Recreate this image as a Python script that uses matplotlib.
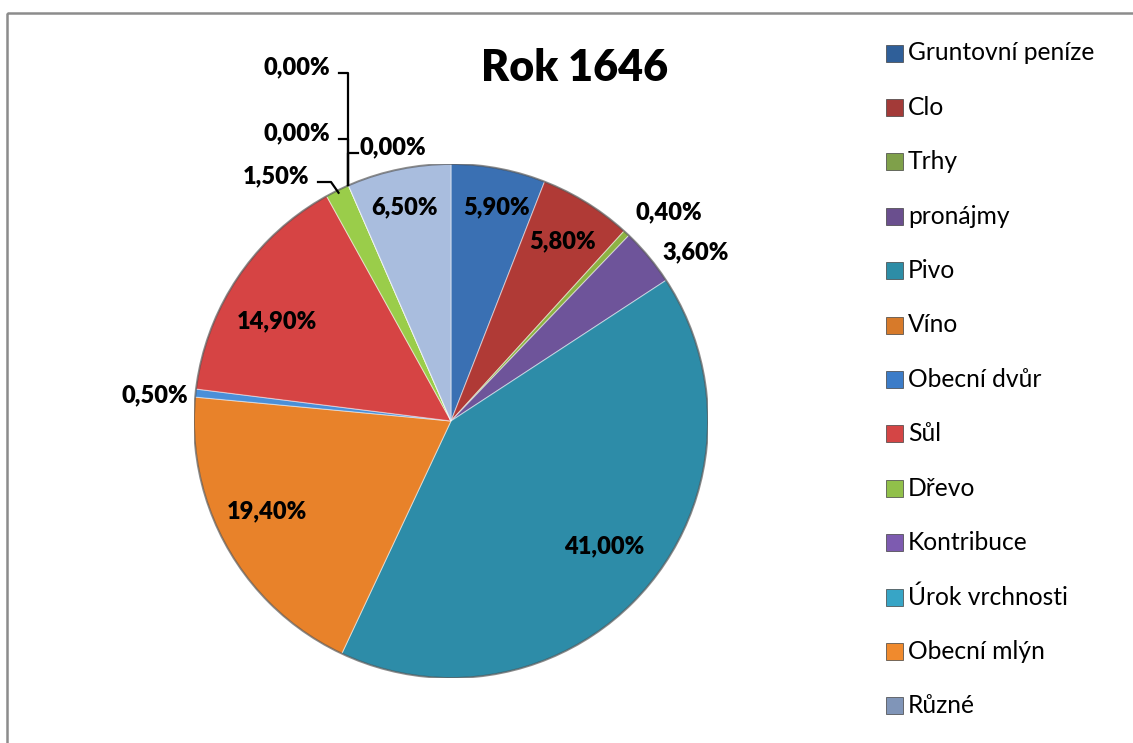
import matplotlib.pyplot as plt
from matplotlib.patches import Rectangle, Circle
import numpy as np

categories = ["Gruntovní peníze", "Clo", "Trhy", "pronájmy", "Pivo", "Víno",
              "Obecní dvůr", "Sůl", "Dřevo", "Kontribuce", "Úrok vrchnosti",
              "Obecní mlýn", "Různé"]
values = [5.9, 5.8, 0.4, 3.6, 41.0, 19.4, 0.5, 14.9, 1.5, 0.0, 0.0, 0.0, 6.5]
title = "Rok 1646"

colors = ["#3A70B3", "#B03A36", "#8DB243", "#6E549A", "#2D8CA8", "#E8822A",
          "#4A8FD8", "#D64444", "#9ACD4A", "#7D5BB0", "#37A5C6", "#F08A2D",
          "#A9BDDE"]
legend_colors = ["#2F5F99", "#A33A38", "#7FA04A", "#6A4F8E", "#2D8DA6", "#D77A2A",
                 "#3C7CC8", "#D44545", "#91C04A", "#7D5BB0", "#37A5C6", "#F08A2D",
                 "#8095B8"]

# label centres in pixels (layout only)
label_px = [(497, 207), (563, 241), (669, 212), (696, 252), (604, 546), (267, 511),
            (155, 395), (277, 321), (276, 176), (297, 67), (297, 133), (393, 147),
            (405, 207)]

plt.rcParams['font.family'] = ['Lato', 'DejaVu Sans']

W, H = 1133, 743
cx, cy, R = 451, 421, 257
fig = plt.figure(figsize=(W / 100, H / 100), dpi=100)

ax = fig.add_axes([(cx - R) / W, (H - cy - R) / H, 2 * R / W, 2 * R / H])
wedges, _ = ax.pie(values, colors=colors, startangle=90, counterclock=False,
                   radius=1, wedgeprops=dict(edgecolor=(1, 1, 1, 0.45), linewidth=0.8))
ax.add_patch(Circle((0, 0), 1.0, fill=False, edgecolor="#404040", linewidth=1.4, alpha=0.6))
ax.set_xlim(-1, 1)
ax.set_ylim(-1, 1)
ax.axis('off')


def to_data(p):
    return ((p[0] - cx) / R, (cy - p[1]) / R)


for i, (w, v) in enumerate(zip(wedges, values)):
    txt = f"{v:.2f}%".replace('.', ',')
    x, y = to_data(label_px[i])
    ax.text(x, y, txt, ha='center', va='center', fontsize=17, fontweight='heavy', color='black')


def edge_point(w, r=1.0):
    th = np.deg2rad((w.theta1 + w.theta2) / 2)
    return r * np.cos(th), r * np.sin(th)


# leader line for Dřevo
ex, ey = edge_point(wedges[8], 0.99)
x0, y0 = to_data((318, 182))
x1, _ = to_data((331, 182))
ax.plot([x0, x1, ex], [y0, y0, ey], color='black', lw=1.6, clip_on=False)

# leader lines for zero slices
for i in [9, 10]:
    ex, ey = edge_point(wedges[i])
    _, ty = to_data((0, label_px[i][1] + 6))
    ax.plot([to_data((339, 0))[0], ex, ex], [ty, ty, ey], color='black', lw=1.6, clip_on=False)
ex, ey = edge_point(wedges[11])
_, ty = to_data((0, label_px[11][1] + 6))
ax.plot([to_data((358, 0))[0], ex, ex], [ty, ty, ey], color='black', lw=1.6, clip_on=False)

# overlay in pixel coordinates: frame, title, legend
ov = fig.add_axes([0, 0, 1, 1])
ov.set_xlim(0, W)
ov.set_ylim(H, 0)
ov.axis('off')
ov.add_patch(Rectangle((6.5, 12.5), W, H, fill=False, edgecolor="#8C8C8C", linewidth=1.8))
ov.text(575, 68, title, ha='center', va='center', fontsize=31, fontweight='heavy')

for i, (cat, col) in enumerate(zip(categories, legend_colors)):
    y = 53 + i * 54.4
    ov.add_patch(Rectangle((886, y - 8.5), 17, 17, facecolor=col, edgecolor='#404040', linewidth=0.5))
    ov.text(908, y, cat, ha='left', va='center', fontsize=17.7)

fig.savefig("out.png", dpi=100)
